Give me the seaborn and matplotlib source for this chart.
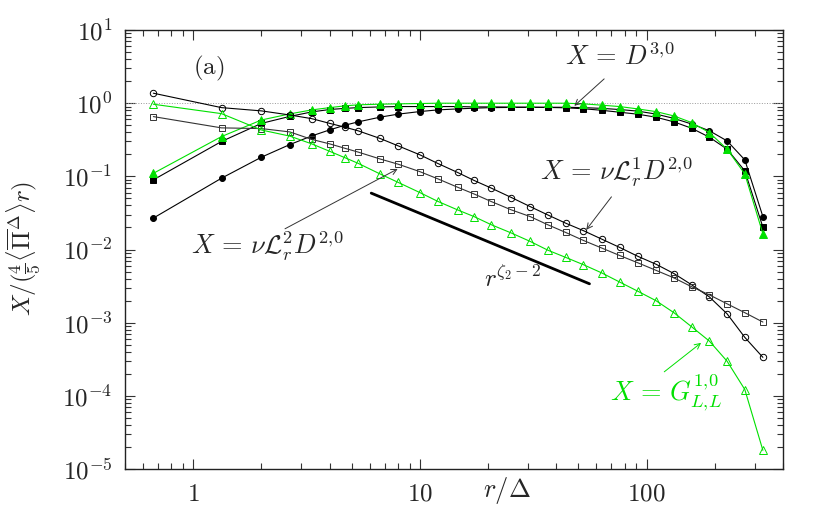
import matplotlib
matplotlib.use("Agg")
import matplotlib.pyplot as plt
import seaborn as sns
import numpy as np

# separation r / Delta (shared by every series)
r = [0.667, 1.333, 2.0, 2.667, 3.333, 4.0, 4.667, 5.333, 6.667, 8.0,
     10.0, 12.0, 14.67, 17.33, 20.67, 25.33, 30.67, 36.67, 44.0, 52.67,
     63.33, 76.0, 91.33, 110.0, 132.0, 158.0, 189.3, 226.7, 271.3, 326.0]

# filled symbols (D^{3,0} family)
filled_circ = [0.0269, 0.0944, 0.183, 0.272, 0.357, 0.432, 0.50, 0.555, 0.644, 0.708,
               0.769, 0.81, 0.836, 0.855, 0.87, 0.875, 0.88, 0.88, 0.88, 0.87,
               0.85, 0.82, 0.78, 0.71, 0.62, 0.52, 0.42, 0.305, 0.168, 0.0282]
filled_sq = [0.0896, 0.30, 0.53, 0.66, 0.76, 0.82, 0.85, 0.87, 0.89, 0.90,
             0.90, 0.90, 0.90, 0.89, 0.89, 0.885, 0.88, 0.875, 0.865, 0.84,
             0.80, 0.753, 0.708, 0.644, 0.556, 0.455, 0.343, 0.235, 0.119, 0.0202]
filled_tri = [0.11, 0.35, 0.59, 0.714, 0.81, 0.87, 0.92, 0.95, 0.97, 0.98,
              0.99, 1.0, 1.0, 1.0, 1.0, 1.0, 1.0, 1.0, 1.0, 0.98,
              0.94, 0.90, 0.836, 0.768, 0.67, 0.544, 0.397, 0.235, 0.108, 0.0164]

# open symbols (L^1, L^2, G terms)
open_circ = [1.37, 0.87, 0.785, 0.69, 0.615, 0.53, 0.47, 0.42, 0.33, 0.262,
             0.197, 0.15, 0.113, 0.088, 0.069, 0.0514, 0.0386, 0.0297, 0.0229, 0.0181,
             0.0139, 0.0107, 0.0081, 0.0063, 0.0047, 0.0033, 0.00225, 0.00132, 0.00063, 0.000336]
open_sq = [0.656, 0.46, 0.45, 0.405, 0.32, 0.278, 0.242, 0.215, 0.173, 0.147,
           0.116, 0.0925, 0.071, 0.0575, 0.0452, 0.0348, 0.0282, 0.0218, 0.0171, 0.0133,
           0.0105, 0.0083, 0.0066, 0.0052, 0.0041, 0.0031, 0.0024, 0.00181, 0.00137, 0.00102]
open_tri = [0.968, 0.72, 0.43, 0.355, 0.278, 0.22, 0.18, 0.151, 0.108, 0.083,
            0.06, 0.0455, 0.0348, 0.0282, 0.0218, 0.0168, 0.0129, 0.0098, 0.0078, 0.0062,
            0.0048, 0.0036, 0.0027, 0.0020, 0.00137, 0.00088, 0.00056, 0.000297, 0.000122, 1.8e-5]

# reference slope r^{zeta_2 - 2}
ref_r = [6.1, 56.0]
ref_y = [0.059, 0.0034]

GREEN = '#00e000'

sns.set_style('ticks')
plt.rcParams['font.family'] = ['DejaVu Serif']
plt.rcParams['mathtext.fontset'] = 'cm'

fig = plt.figure(figsize=(8.3, 5.18), dpi=100)
ax = fig.add_axes([0.1506, 0.0946, 0.7928, 0.8474])

ax.axhline(1.0, color='#999999', ls=':', lw=0.7, zorder=1)

series = [
    (filled_circ, 'o', 'black', 'black', 4.3),
    (filled_sq, 's', 'black', 'black', 4.3),
    (filled_tri, '^', GREEN, GREEN, 5.5),
    (open_circ, 'o', 'black', 'none', 4.6),
    (open_sq, 's', '#333333', 'none', 4.4),
    (open_tri, '^', GREEN, 'none', 5.6),
]
for vals, mk, col, fc, ms in series:
    sns.lineplot(x=r, y=vals, ax=ax, color=col, lw=0.8, marker=mk,
                 markersize=ms, markerfacecolor=fc, markeredgecolor=col,
                 markeredgewidth=0.7, zorder=3)

sns.lineplot(x=ref_r, y=ref_y, ax=ax, color='black', lw=2.0, zorder=3)

ax.set_xscale('log')
ax.set_yscale('log')
ax.set_xlim(0.5, 400)
ax.set_ylim(1e-5, 10)

ax.set_xticks([1, 10, 100])
ax.set_xticklabels(['$1$', '$10$', '$100$'])
yt = [10.0 ** k for k in range(-5, 2)]
ax.set_yticks(yt)
ax.set_yticklabels([r'$10^{%d}$' % k for k in range(-5, 2)])
ax.tick_params(which='both', direction='in', top=True, right=True,
               labelsize=18, width=0.8, color='#333333')
ax.tick_params(which='major', length=7)
ax.tick_params(which='minor', length=4)
ax.tick_params(axis='y', pad=9)
ax.tick_params(axis='x', pad=10)
for s in ax.spines.values():
    s.set_linewidth(1.0)
    s.set_color('#222222')

ax.set_xlabel('')
ax.set_ylabel('')
ax.text(0.58, -0.048, r'$r/\Delta$', transform=ax.transAxes, fontsize=19,
        ha='center', va='center')
ax.text(-0.153, 0.503, r'$X/(\frac{4}{5}\langle\overline{\Pi}^{\Delta}\rangle r)$',
        transform=ax.transAxes, fontsize=18, rotation=90, ha='center', va='center')

ax.text(1.17, 3.0, r'$(\mathrm{a})$', fontsize=18, ha='center', va='center')
ax.text(25.6, 0.0039, r'$r^{\zeta_2-2}$', fontsize=18, ha='center', va='center')

arrow = dict(arrowstyle='->', color='#333333', lw=0.7, shrinkA=0, shrinkB=0)
ax.text(76, 4.3, r'$X\,=\,D^{3,\!0}$', fontsize=19, ha='center', va='center')
ax.annotate('', xy=(48, 0.92), xytext=(65, 2.15), arrowprops=arrow)
ax.text(73.6, 0.112, r'$X\,=\,\nu\mathcal{L}^{1}_{r}D^{2,\!0}$', fontsize=19,
        ha='center', va='center')
ax.annotate('', xy=(54.2, 0.0186), xytext=(70, 0.0525), arrowprops=arrow)
ax.text(2.12, 0.0109, r'$X\,=\,\nu\mathcal{L}^{2}_{r}D^{2,\!0}$', fontsize=19,
        ha='center', va='center')
ax.annotate('', xy=(7.98, 0.1265), xytext=(2.54, 0.0192), arrowprops=arrow)
ax.text(122, 1.1e-4, r'$X\,=\,G^{1,\!0}_{L,\!L}$', fontsize=19, color=GREEN,
        ha='center', va='center')
ax.annotate('', xy=(174, 5.3e-4), xytext=(119.7, 2.13e-4),
            arrowprops=dict(arrow, color=GREEN))

fig.savefig('out.png', dpi=100)
plt.close(fig)
